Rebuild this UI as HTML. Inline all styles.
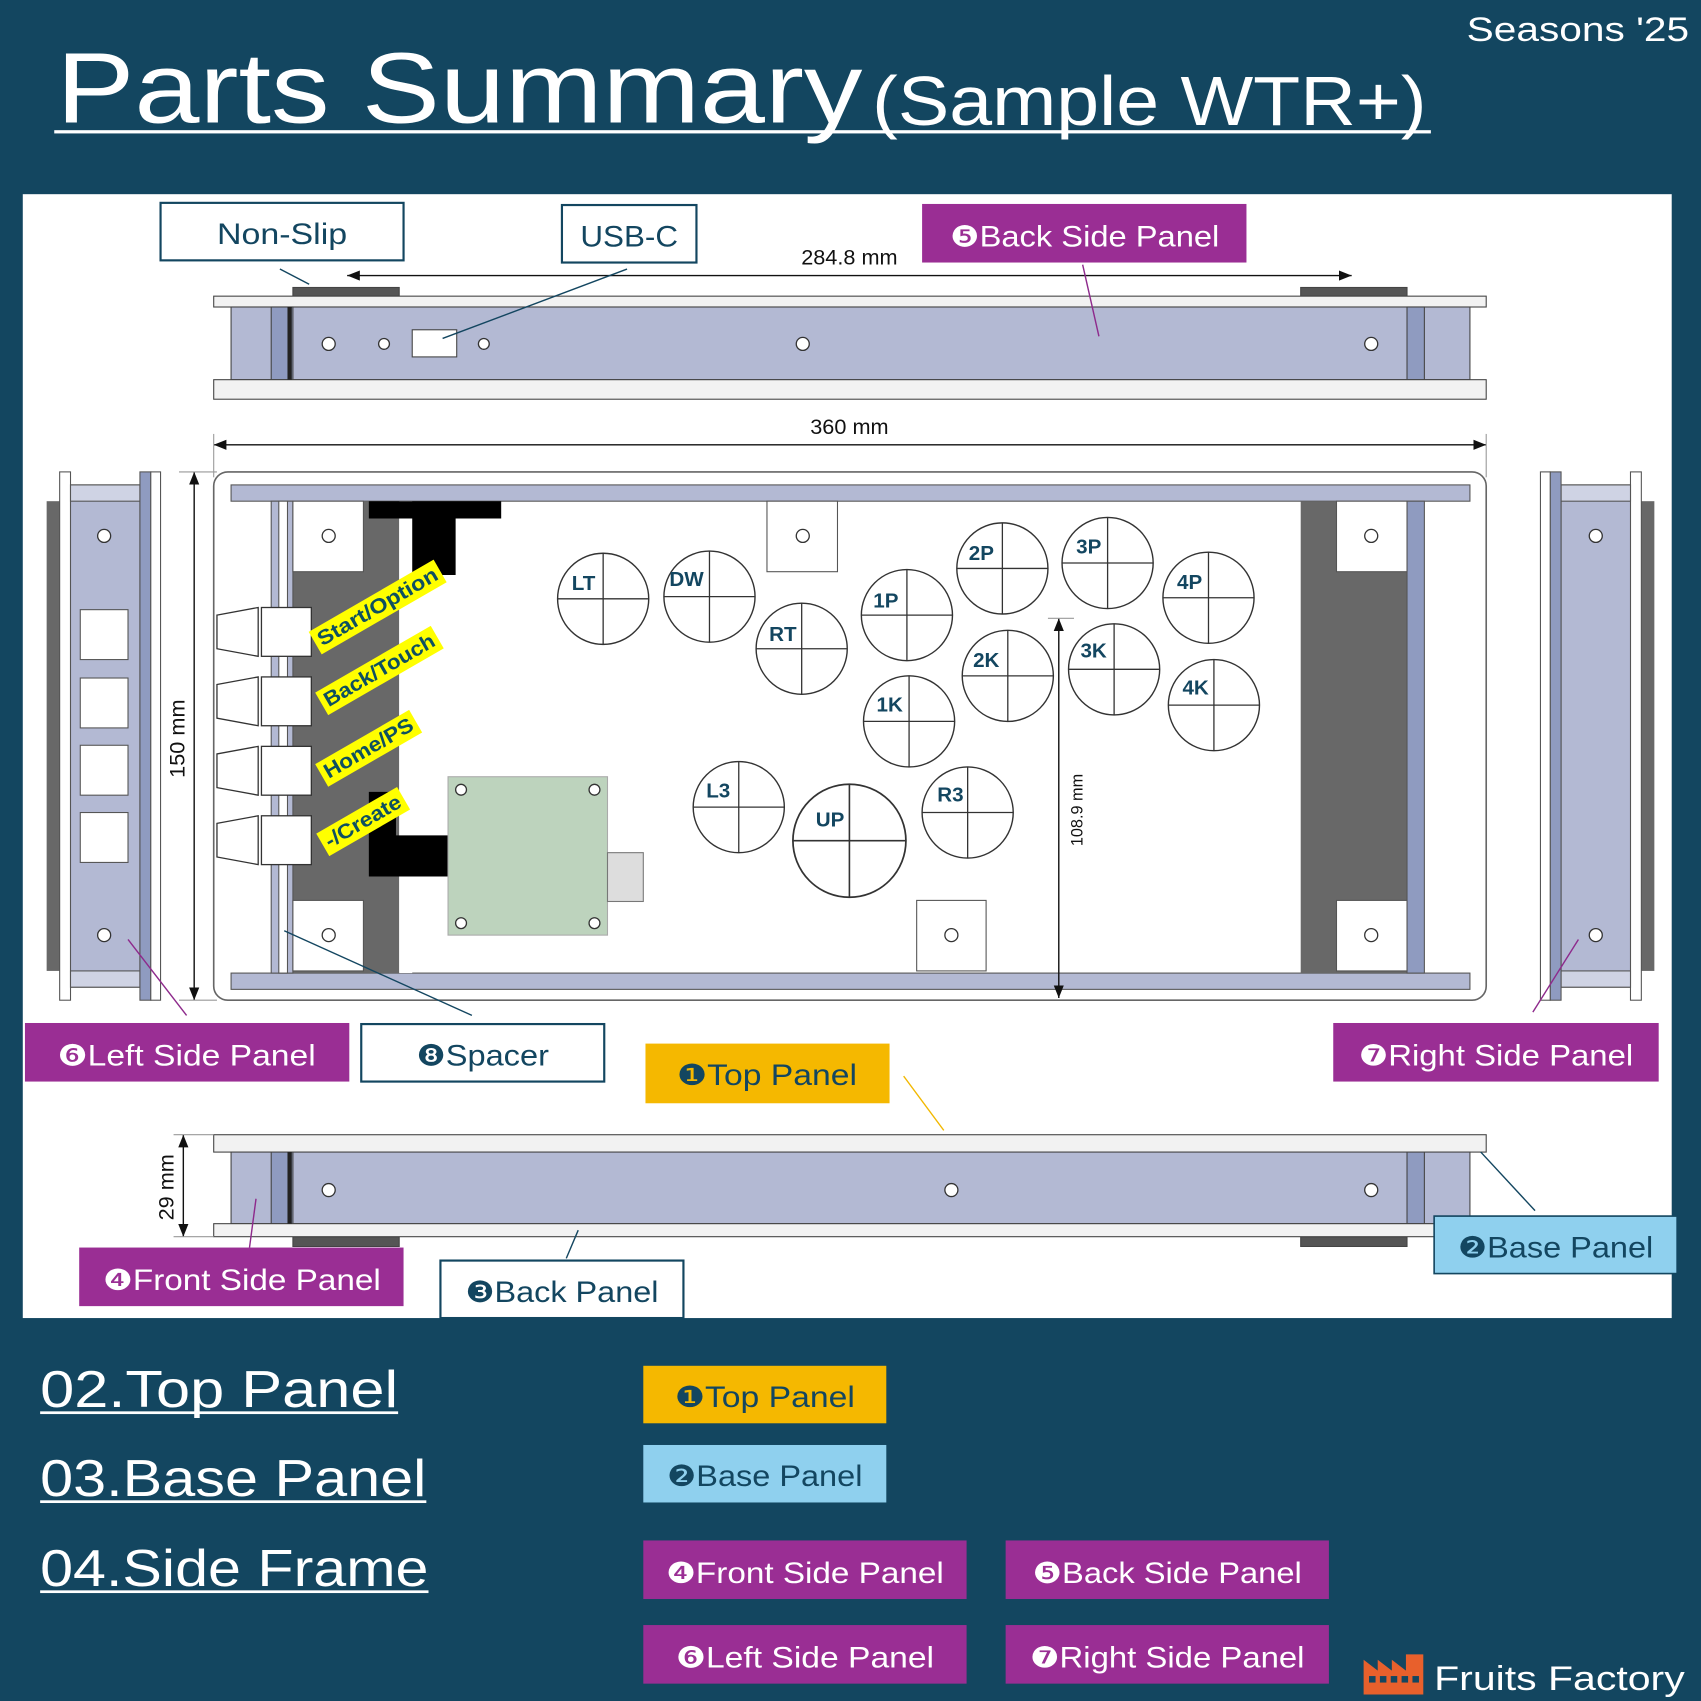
<!DOCTYPE html>
<html><head><meta charset="utf-8"><style>
html,body{margin:0;padding:0;background:#134660;}
svg{display:block}
text{font-family:"Liberation Sans","DejaVu Sans",sans-serif;}
</style></head><body>
<svg width="1701" height="1701" viewBox="0 0 1568 1568" xmlns="http://www.w3.org/2000/svg">
<defs>
<marker id="a" viewBox="0 0 10 10" refX="10" refY="5" markerWidth="9" markerHeight="9" orient="auto-start-reverse"><path d="M0,1 L10,5 L0,9 z" fill="#111"/></marker>
<g id="circ"><circle r="42" fill="#fff" stroke="#333" stroke-width="1.3"/><line x1="-42" y1="0" x2="42" y2="0" stroke="#333" stroke-width="1.2"/><line x1="0" y1="-42" x2="0" y2="42" stroke="#333" stroke-width="1.2"/></g>
</defs>
<rect width="1568" height="1568" fill="#134660"/>
<text x="52" y="113" font-size="92" fill="#fff" textLength="743" lengthAdjust="spacingAndGlyphs">Parts Summary</text>
<text x="804" y="115" font-size="64" fill="#fff" textLength="511" lengthAdjust="spacingAndGlyphs">(Sample WTR+)</text>
<rect x="50" y="120" width="1269" height="3" fill="#fff"/>
<text x="1352" y="38" font-size="32" fill="#fff" textLength="205" lengthAdjust="spacingAndGlyphs">Seasons '25</text>

<rect x="21" y="179" width="1520" height="1036" fill="#fff"/>
<g stroke="#444" stroke-width="1">
<rect x="270" y="265" width="98" height="8" fill="#555"/>
<rect x="1199" y="265" width="98" height="8" fill="#555"/>
<rect x="197" y="273" width="1173" height="10" fill="#f2f2f2"/>
<rect x="213" y="283" width="1142" height="67" fill="#b3b9d3"/>
<rect x="250" y="283" width="20" height="67" fill="#8f9bc0"/>
<rect x="1297" y="283" width="16" height="67" fill="#8f9bc0"/>
<rect x="197" y="350" width="1173" height="18" fill="#f2f2f2"/>
<rect x="380" y="304" width="41" height="25" fill="#fff"/>
</g>
<rect x="265" y="283" width="4" height="67" fill="#222"/>
<g fill="#fff" stroke="#333" stroke-width="1.2">
<circle cx="303" cy="317" r="6"/><circle cx="354" cy="317" r="5"/><circle cx="446" cy="317" r="5"/><circle cx="740" cy="317" r="6"/><circle cx="1264" cy="317" r="6"/>
</g>
<line x1="320" y1="254" x2="1246" y2="254" stroke="#111" stroke-width="1.3" marker-start="url(#a)" marker-end="url(#a)"/>
<text x="783" y="244" font-size="20" fill="#111" text-anchor="middle">284.8 mm</text>
<line x1="197" y1="410" x2="1370" y2="410" stroke="#111" stroke-width="1.3" marker-start="url(#a)" marker-end="url(#a)"/>
<line x1="197" y1="400" x2="197" y2="440" stroke="#999"/><line x1="1370" y1="400" x2="1370" y2="440" stroke="#999"/>
<text x="783" y="400" font-size="20" fill="#111" text-anchor="middle">360 mm</text>

<rect x="197" y="435" width="1173" height="487" rx="13" fill="#fff" stroke="#666" stroke-width="1.5"/>
<g stroke="#555" stroke-width="1">
<rect x="213" y="447" width="1142" height="15" fill="#b3b9d3"/>
<rect x="213" y="897" width="1142" height="15" fill="#b3b9d3"/>
<rect x="270" y="462" width="98" height="435" fill="#686868" stroke="none"/>
<rect x="1199" y="462" width="98" height="435" fill="#686868" stroke="none"/>
<rect x="250" y="462" width="20" height="435" fill="#b3b9d3"/>
<rect x="257" y="462" width="8" height="435" fill="#fff"/>
<rect x="1297" y="462" width="16" height="435" fill="#8f9bc0"/>
<rect x="270" y="462" width="65" height="65" fill="#fff"/>
<rect x="270" y="830" width="65" height="65" fill="#fff"/>
<rect x="1232" y="462" width="65" height="65" fill="#fff"/>
<rect x="1232" y="830" width="65" height="65" fill="#fff"/>
<rect x="707" y="462" width="65" height="65" fill="#fff"/>
<rect x="845" y="830" width="64" height="65" fill="#fff"/>
</g>
<rect x="368" y="462" width="12" height="435" fill="#fff"/>
<path d="M340,462 H462 V478 H420 V530 H380 V478 H340 Z" fill="#000"/>
<path d="M340,730 H365 V770 H415 V808 H340 Z" fill="#000"/>
<rect x="413" y="716" width="147" height="146" fill="#bdd3bd" stroke="#aaa"/>
<rect x="560" y="786" width="33" height="45" fill="#ddd" stroke="#777"/>
<g fill="#fff" stroke="#333" stroke-width="1.2">
<circle cx="425" cy="728" r="5"/><circle cx="548" cy="728" r="5"/><circle cx="425" cy="851" r="5"/><circle cx="548" cy="851" r="5"/>
<circle cx="303" cy="494" r="6"/><circle cx="303" cy="862" r="6"/><circle cx="1264" cy="494" r="6"/><circle cx="1264" cy="862" r="6"/><circle cx="740" cy="494" r="6"/><circle cx="877" cy="862" r="6"/>
</g>
<g fill="#fff" stroke="#333" stroke-width="1.2">
<path d="M200,567 L238,560 L238,605 L200,598 Z"/><rect x="241" y="560" width="46" height="45"/>
<path d="M200,631 L238,624 L238,669 L200,662 Z"/><rect x="241" y="624" width="46" height="45"/>
<path d="M200,695 L238,688 L238,733 L200,726 Z"/><rect x="241" y="688" width="46" height="45"/>
<path d="M200,759 L238,752 L238,797 L200,790 Z"/><rect x="241" y="752" width="46" height="45"/>
</g>
<g font-size="19" font-weight="bold" fill="#0e5060">
<g transform="translate(297,596) rotate(-30)"><rect x="-4" y="-18" width="133" height="24" fill="#ffff00"/><text x="0" y="0" textLength="125" lengthAdjust="spacingAndGlyphs">Start/Option</text></g>
<g transform="translate(303,652) rotate(-30)"><rect x="-4" y="-18" width="123" height="24" fill="#ffff00"/><text x="0" y="0" textLength="115" lengthAdjust="spacingAndGlyphs">Back/Touch</text></g>
<g transform="translate(303,718) rotate(-30)"><rect x="-4" y="-18" width="100" height="24" fill="#ffff00"/><text x="0" y="0" textLength="92" lengthAdjust="spacingAndGlyphs">Home/PS</text></g>
<g transform="translate(304,782) rotate(-30)"><rect x="-4" y="-18" width="86" height="24" fill="#ffff00"/><text x="0" y="0" textLength="78" lengthAdjust="spacingAndGlyphs">-/Create</text></g>
</g>
<g font-size="19" font-weight="bold" fill="#134660">
<use href="#circ" x="556" y="552"/><text x="527" y="544">LT</text>
<use href="#circ" x="654" y="550"/><text x="617" y="540">DW</text>
<use href="#circ" x="739" y="598"/><text x="709" y="591">RT</text>
<use href="#circ" x="836" y="567"/><text x="805" y="560">1P</text>
<use href="#circ" x="924" y="524"/><text x="893" y="516">2P</text>
<use href="#circ" x="1021" y="519"/><text x="992" y="510">3P</text>
<use href="#circ" x="1114" y="551"/><text x="1085" y="543">4P</text>
<use href="#circ" x="929" y="623"/><text x="897" y="615">2K</text>
<use href="#circ" x="1027" y="617"/><text x="996" y="606">3K</text>
<use href="#circ" x="1119" y="650"/><text x="1090" y="640">4K</text>
<use href="#circ" x="838" y="665"/><text x="808" y="656">1K</text>
<use href="#circ" x="681" y="744"/><text x="651" y="735">L3</text>
<g transform="translate(783,775) scale(1.24)"><use href="#circ"/></g><text x="752" y="762">UP</text>
<use href="#circ" x="892" y="749"/><text x="864" y="739">R3</text>
</g>
<line x1="976" y1="570" x2="976" y2="920" stroke="#111" stroke-width="1.3" marker-start="url(#a)" marker-end="url(#a)"/>
<line x1="966" y1="570" x2="990" y2="570" stroke="#999"/>
<text transform="translate(998,780) rotate(-90)" font-size="15" fill="#111">108.9 mm</text>
<line x1="179" y1="435" x2="179" y2="922" stroke="#111" stroke-width="1.3" marker-start="url(#a)" marker-end="url(#a)"/>
<line x1="165" y1="435" x2="200" y2="435" stroke="#999"/><line x1="165" y1="922" x2="200" y2="922" stroke="#999"/>
<text transform="translate(170,717) rotate(-90)" font-size="20" fill="#111">150 mm</text>

<g stroke="#555" stroke-width="1">
<rect x="43" y="462" width="12" height="433" fill="#686868" stroke="none"/>
<rect x="55" y="435" width="10" height="487" fill="#fff"/>
<rect x="65" y="447" width="64" height="463" fill="#b3b9d3"/>
<rect x="65" y="447" width="64" height="15" fill="#cfd3e4"/>
<rect x="65" y="895" width="64" height="15" fill="#cfd3e4"/>
<rect x="129" y="435" width="10" height="487" fill="#8f9bc0"/>
<rect x="139" y="435" width="9" height="487" fill="#fff"/>
<rect x="74" y="562" width="44" height="46" fill="#fff"/>
<rect x="74" y="625" width="44" height="46" fill="#fff"/>
<rect x="74" y="687" width="44" height="46" fill="#fff"/>
<rect x="74" y="749" width="44" height="46" fill="#fff"/>
</g>
<g stroke="#555" stroke-width="1">
<rect x="1513" y="462" width="12" height="433" fill="#686868" stroke="none"/>
<rect x="1503" y="435" width="10" height="487" fill="#fff"/>
<rect x="1439" y="447" width="64" height="463" fill="#b3b9d3"/>
<rect x="1439" y="447" width="64" height="15" fill="#cfd3e4"/>
<rect x="1439" y="895" width="64" height="15" fill="#cfd3e4"/>
<rect x="1429" y="435" width="10" height="487" fill="#8f9bc0"/>
<rect x="1420" y="435" width="9" height="487" fill="#fff"/>
</g>
<g fill="#fff" stroke="#333" stroke-width="1.2">
<circle cx="96" cy="494" r="6"/><circle cx="96" cy="862" r="6"/><circle cx="1471" cy="494" r="6"/><circle cx="1471" cy="862" r="6"/>
</g>

<g stroke="#444" stroke-width="1">
<rect x="270" y="1140" width="98" height="9" fill="#555"/>
<rect x="1199" y="1140" width="98" height="9" fill="#555"/>
<rect x="197" y="1046" width="1173" height="16" fill="#f2f2f2"/>
<rect x="213" y="1062" width="1142" height="66" fill="#b3b9d3"/>
<rect x="250" y="1062" width="20" height="66" fill="#8f9bc0"/>
<rect x="1297" y="1062" width="16" height="66" fill="#8f9bc0"/>
<rect x="197" y="1128" width="1173" height="12" fill="#f2f2f2"/>
</g>
<rect x="265" y="1062" width="4" height="66" fill="#222"/>
<g fill="#fff" stroke="#333" stroke-width="1.2"><circle cx="303" cy="1097" r="6"/><circle cx="877" cy="1097" r="6"/><circle cx="1264" cy="1097" r="6"/></g>
<line x1="169" y1="1046" x2="169" y2="1140" stroke="#111" stroke-width="1.3" marker-start="url(#a)" marker-end="url(#a)"/>
<line x1="160" y1="1046" x2="197" y2="1046" stroke="#999"/><line x1="160" y1="1140" x2="197" y2="1140" stroke="#999"/>
<text transform="translate(160,1125) rotate(-90)" font-size="20" fill="#111">29 mm</text>

<g stroke-width="1.3" fill="none">
<line x1="258" y1="248" x2="285" y2="262" stroke="#134660"/>
<line x1="578" y1="248" x2="408" y2="312" stroke="#134660"/>
<line x1="998" y1="244" x2="1013" y2="310" stroke="#8e2a8c"/>
<line x1="118" y1="866" x2="172" y2="936" stroke="#8e2a8c"/>
<line x1="262" y1="858" x2="435" y2="936" stroke="#134660"/>
<line x1="1455" y1="866" x2="1413" y2="933" stroke="#8e2a8c"/>
<line x1="833" y1="992" x2="870" y2="1042" stroke="#f2b800"/>
<line x1="1365" y1="1062" x2="1415" y2="1116" stroke="#134660"/>
<line x1="236" y1="1105" x2="230" y2="1150" stroke="#8e2a8c"/>
<line x1="533" y1="1134" x2="522" y2="1160" stroke="#134660"/>
</g>

<g font-size="27" lengthAdjust="spacingAndGlyphs">
<rect x="148" y="187" width="224" height="53" fill="#fff" stroke="#134660" stroke-width="2"/><text x="260" y="225" text-anchor="middle" fill="#134660" textLength="120" lengthAdjust="spacingAndGlyphs">Non-Slip</text>
<rect x="518" y="189" width="124" height="53" fill="#fff" stroke="#134660" stroke-width="2"/><text x="580" y="227" text-anchor="middle" fill="#134660" textLength="90" lengthAdjust="spacingAndGlyphs">USB-C</text>
<rect x="850" y="188" width="299" height="54" fill="#9a2e94"/><text x="1000" y="227" text-anchor="middle" fill="#fff" textLength="248" lengthAdjust="spacingAndGlyphs">❺Back Side Panel</text>
<rect x="23" y="943" width="299" height="54" fill="#9a2e94"/><text x="172" y="982" text-anchor="middle" fill="#fff" textLength="238" lengthAdjust="spacingAndGlyphs">❻Left Side Panel</text>
<rect x="333" y="944" width="224" height="53" fill="#fff" stroke="#134660" stroke-width="2"/><text x="445" y="982" text-anchor="middle" fill="#134660" textLength="122" lengthAdjust="spacingAndGlyphs">❽Spacer</text>
<rect x="595" y="962" width="225" height="55" fill="#f5b800"/><text x="707" y="1000" text-anchor="middle" fill="#134660" textLength="166" lengthAdjust="spacingAndGlyphs">❶Top Panel</text>
<rect x="1229" y="943" width="300" height="54" fill="#9a2e94"/><text x="1379" y="982" text-anchor="middle" fill="#fff" textLength="253" lengthAdjust="spacingAndGlyphs">❼Right Side Panel</text>
<rect x="1322" y="1121" width="224" height="53" fill="#8fd0ee" stroke="#134660" stroke-width="1.5"/><text x="1434" y="1159" text-anchor="middle" fill="#134660" textLength="180" lengthAdjust="spacingAndGlyphs">❷Base Panel</text>
<rect x="73" y="1150" width="299" height="54" fill="#9a2e94"/><text x="223" y="1189" text-anchor="middle" fill="#fff" textLength="256" lengthAdjust="spacingAndGlyphs">❹Front Side Panel</text>
<rect x="406" y="1162" width="224" height="53" fill="#fff" stroke="#134660" stroke-width="2"/><text x="518" y="1200" text-anchor="middle" fill="#134660" textLength="178" lengthAdjust="spacingAndGlyphs">❸Back Panel</text>
</g>

<g font-size="48" fill="#fff">
<text x="37" y="1297" textLength="330" lengthAdjust="spacingAndGlyphs">02.Top Panel</text><rect x="37" y="1301" width="330" height="2.5"/>
<text x="37" y="1379" textLength="356" lengthAdjust="spacingAndGlyphs">03.Base Panel</text><rect x="37" y="1383" width="356" height="2.5"/>
<text x="37" y="1462" textLength="358" lengthAdjust="spacingAndGlyphs">04.Side Frame</text><rect x="37" y="1466" width="358" height="2.5"/>
</g>
<g font-size="27">
<rect x="593" y="1259" width="224" height="53" fill="#f5b800"/><text x="705" y="1297" text-anchor="middle" fill="#134660" textLength="166" lengthAdjust="spacingAndGlyphs">❶Top Panel</text>
<rect x="593" y="1332" width="224" height="53" fill="#8fd0ee"/><text x="705" y="1370" text-anchor="middle" fill="#134660" textLength="180" lengthAdjust="spacingAndGlyphs">❷Base Panel</text>
<rect x="593" y="1420" width="298" height="54" fill="#9a2e94"/><text x="742" y="1459" text-anchor="middle" fill="#fff" textLength="256" lengthAdjust="spacingAndGlyphs">❹Front Side Panel</text>
<rect x="927" y="1420" width="298" height="54" fill="#9a2e94"/><text x="1076" y="1459" text-anchor="middle" fill="#fff" textLength="248" lengthAdjust="spacingAndGlyphs">❺Back Side Panel</text>
<rect x="593" y="1498" width="298" height="54" fill="#9a2e94"/><text x="742" y="1537" text-anchor="middle" fill="#fff" textLength="238" lengthAdjust="spacingAndGlyphs">❻Left Side Panel</text>
<rect x="927" y="1498" width="298" height="54" fill="#9a2e94"/><text x="1076" y="1537" text-anchor="middle" fill="#fff" textLength="253" lengthAdjust="spacingAndGlyphs">❼Right Side Panel</text>
</g>
<path d="M1257,1562 V1530 L1270,1540 V1530 L1283,1540 V1530 L1296,1540 V1525 H1312 V1562 Z" fill="#e8602c"/>
<g fill="#134660"><rect x="1262" y="1545" width="6" height="6"/><rect x="1272" y="1545" width="6" height="6"/><rect x="1282" y="1545" width="6" height="6"/><rect x="1292" y="1545" width="6" height="6"/><rect x="1302" y="1545" width="6" height="6"/></g>
<text x="1322" y="1558" font-size="32" fill="#fff" textLength="231" lengthAdjust="spacingAndGlyphs">Fruits Factory</text>
</svg>
</body></html>
